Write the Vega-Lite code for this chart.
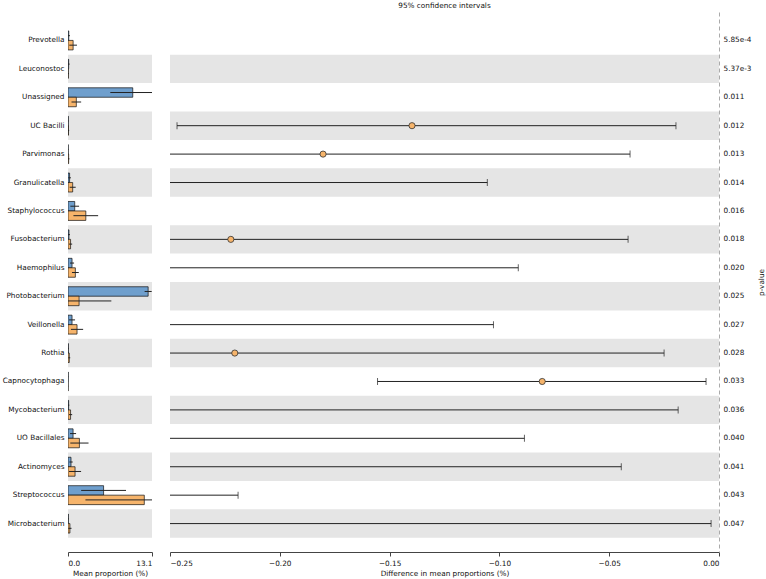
{
  "$schema": "https://vega.github.io/schema/vega-lite/v6.json",
  "padding": {"left": 2, "top": 1, "right": 2, "bottom": 2},
  "config": {
    "font": "DejaVu Sans",
    "view": {"stroke": null},
    "axis": {"labelFont": "DejaVu Sans", "titleFont": "DejaVu Sans", "labelFontSize": 7.3, "titleFontSize": 7.3, "titleFontWeight": "normal", "labelColor": "#111", "titleColor": "#111", "domainColor": "#444", "tickColor": "#444", "grid": false},
    "title": {"font": "DejaVu Sans", "fontSize": 7.3, "fontWeight": "normal", "color": "#111"}
  },
  "datasets": {
    "rows": [
      {"genus": "Prevotella", "pval": "5.85e-4", "diff": -0.9, "lo": -1.5, "hi": -0.3},
      {"genus": "Leuconostoc", "pval": "5.37e-3", "diff": -0.6, "lo": -1.0, "hi": -0.28},
      {"genus": "Unassigned", "pval": "0.011", "diff": 8.8, "lo": 3.5, "hi": 14.1},
      {"genus": "UC Bacilli", "pval": "0.012", "diff": -0.1398, "lo": -0.2468, "hi": -0.0196},
      {"genus": "Parvimonas", "pval": "0.013", "diff": -0.1803, "lo": -0.32, "hi": -0.0405},
      {"genus": "Granulicatella", "pval": "0.014", "diff": -0.45, "lo": -0.8, "hi": -0.1055},
      {"genus": "Staphylococcus", "pval": "0.016", "diff": -1.7, "lo": -3.2, "hi": -0.26},
      {"genus": "Fusobacterium", "pval": "0.018", "diff": -0.2223, "lo": -0.4, "hi": -0.0414},
      {"genus": "Haemophilus", "pval": "0.020", "diff": -0.4, "lo": -0.7, "hi": -0.0914},
      {"genus": "Photobacterium", "pval": "0.025", "diff": 10.8, "lo": 4.0, "hi": 17.6},
      {"genus": "Veillonella", "pval": "0.027", "diff": -0.78, "lo": -1.45, "hi": -0.1027},
      {"genus": "Rothia", "pval": "0.028", "diff": -0.2205, "lo": -0.42, "hi": -0.025},
      {"genus": "Capnocytophaga", "pval": "0.033", "diff": -0.0805, "lo": -0.1555, "hi": -0.0059},
      {"genus": "Mycobacterium", "pval": "0.036", "diff": -0.3, "lo": -0.58, "hi": -0.0186},
      {"genus": "UO Bacillales", "pval": "0.040", "diff": -0.99, "lo": -1.9, "hi": -0.0886},
      {"genus": "Actinomyces", "pval": "0.041", "diff": -0.63, "lo": -1.2, "hi": -0.0445},
      {"genus": "Streptococcus", "pval": "0.043", "diff": -6.4, "lo": -12.6, "hi": -0.219},
      {"genus": "Microbacterium", "pval": "0.047", "diff": -0.28, "lo": -0.56, "hi": -0.0036}
    ],
    "bars": [
      {"genus": "Prevotella", "group": "group1", "mean": 0.12, "lo": 0.0, "hi": 0.3},
      {"genus": "Prevotella", "group": "group2", "mean": 0.8, "lo": 0.2, "hi": 1.4},
      {"genus": "Leuconostoc", "group": "group1", "mean": 0.1, "lo": 0.0, "hi": 0.25},
      {"genus": "Leuconostoc", "group": "group2", "mean": 0.05, "lo": 0.0, "hi": 0.12},
      {"genus": "Unassigned", "group": "group1", "mean": 10.1, "lo": 6.6, "hi": 13.6},
      {"genus": "Unassigned", "group": "group2", "mean": 1.3, "lo": 0.55, "hi": 2.05},
      {"genus": "UC Bacilli", "group": "group1", "mean": 0.04, "lo": 0.0, "hi": 0.09},
      {"genus": "UC Bacilli", "group": "group2", "mean": 0.08, "lo": 0.0, "hi": 0.18},
      {"genus": "Parvimonas", "group": "group1", "mean": 0.03, "lo": 0.0, "hi": 0.07},
      {"genus": "Parvimonas", "group": "group2", "mean": 0.1, "lo": 0.0, "hi": 0.22},
      {"genus": "Granulicatella", "group": "group1", "mean": 0.25, "lo": 0.05, "hi": 0.45},
      {"genus": "Granulicatella", "group": "group2", "mean": 0.73, "lo": 0.26, "hi": 1.2},
      {"genus": "Staphylococcus", "group": "group1", "mean": 1.05, "lo": 0.37, "hi": 1.73},
      {"genus": "Staphylococcus", "group": "group2", "mean": 2.78, "lo": 0.85, "hi": 4.7},
      {"genus": "Fusobacterium", "group": "group1", "mean": 0.15, "lo": 0.0, "hi": 0.3},
      {"genus": "Fusobacterium", "group": "group2", "mean": 0.4, "lo": 0.15, "hi": 0.65},
      {"genus": "Haemophilus", "group": "group1", "mean": 0.63, "lo": 0.31, "hi": 0.95},
      {"genus": "Haemophilus", "group": "group2", "mean": 1.15, "lo": 0.62, "hi": 1.68},
      {"genus": "Photobacterium", "group": "group1", "mean": 12.5, "lo": 11.95, "hi": 13.05},
      {"genus": "Photobacterium", "group": "group2", "mean": 1.73, "lo": -3.3, "hi": 6.76},
      {"genus": "Veillonella", "group": "group1", "mean": 0.63, "lo": 0.16, "hi": 1.1},
      {"genus": "Veillonella", "group": "group2", "mean": 1.41, "lo": 0.46, "hi": 2.36},
      {"genus": "Rothia", "group": "group1", "mean": 0.05, "lo": 0.0, "hi": 0.1},
      {"genus": "Rothia", "group": "group2", "mean": 0.2, "lo": 0.05, "hi": 0.35},
      {"genus": "Capnocytophaga", "group": "group1", "mean": 0.03, "lo": 0.0, "hi": 0.05},
      {"genus": "Capnocytophaga", "group": "group2", "mean": 0.02, "lo": 0.0, "hi": 0.04},
      {"genus": "Mycobacterium", "group": "group1", "mean": 0.1, "lo": 0.0, "hi": 0.2},
      {"genus": "Mycobacterium", "group": "group2", "mean": 0.4, "lo": 0.15, "hi": 0.65},
      {"genus": "UO Bacillales", "group": "group1", "mean": 0.79, "lo": 0.32, "hi": 1.26},
      {"genus": "UO Bacillales", "group": "group2", "mean": 1.78, "lo": 0.36, "hi": 3.2},
      {"genus": "Actinomyces", "group": "group1", "mean": 0.47, "lo": 0.21, "hi": 0.73},
      {"genus": "Actinomyces", "group": "group2", "mean": 1.1, "lo": 0.16, "hi": 2.04},
      {"genus": "Streptococcus", "group": "group1", "mean": 5.55, "lo": 2.05, "hi": 9.05},
      {"genus": "Streptococcus", "group": "group2", "mean": 11.9, "lo": 2.72, "hi": 21.1},
      {"genus": "Microbacterium", "group": "group1", "mean": 0.05, "lo": 0.0, "hi": 0.1},
      {"genus": "Microbacterium", "group": "group2", "mean": 0.3, "lo": 0.05, "hi": 0.55}
    ]
  },
  "spacing": 16,
  "hconcat": [
    {
      "width": 84,
      "height": 540,
      "layer": [
        {
          "data": {"name": "rows"},
          "transform": [
            {"window": [{"op": "row_number", "as": "rn"}]},
            {"filter": "datum.rn % 2 == 0"}
          ],
          "mark": {"type": "rect", "color": "#e5e5e5"},
          "encoding": {
            "y": {"field": "genus", "type": "nominal"},
            "x": {"datum": 0},
            "x2": {"datum": 13.1}
          }
        },
        {
          "data": {"name": "bars"},
          "mark": {"type": "bar", "stroke": "#111", "strokeWidth": 0.7, "clip": true},
          "encoding": {
            "y": {"field": "genus", "type": "nominal"},
            "yOffset": {"field": "group", "type": "nominal", "scale": {"paddingInner": 0, "paddingOuter": 0.5}},
            "x": {"field": "mean", "type": "quantitative"},
            "color": {"field": "group", "type": "nominal", "scale": {"domain": ["group1", "group2"], "range": ["#6f9fcd", "#f6b46b"]}, "legend": null},
            "fillOpacity": {"value": 1}
          }
        },
        {
          "data": {"name": "bars"},
          "mark": {"type": "rule", "color": "#222", "strokeWidth": 1, "clip": true},
          "encoding": {
            "y": {"field": "genus", "type": "nominal"},
            "yOffset": {"field": "group", "type": "nominal", "scale": {"paddingInner": 0, "paddingOuter": 0.5}},
            "x": {"field": "lo", "type": "quantitative"},
            "x2": {"field": "hi"}
          }
        }
      ],
      "encoding": {
        "y": {
          "field": "genus", "type": "nominal",
          "scale": {"domain": ["Prevotella", "Leuconostoc", "Unassigned", "UC Bacilli", "Parvimonas", "Granulicatella", "Staphylococcus", "Fusobacterium", "Haemophilus", "Photobacterium", "Veillonella", "Rothia", "Capnocytophaga", "Mycobacterium", "UO Bacillales", "Actinomyces", "Streptococcus", "Microbacterium"], "paddingInner": 0, "paddingOuter": 0.5},
          "axis": {"title": null, "ticks": false, "domain": false, "labelPadding": 4}
        },
        "x": {
          "type": "quantitative",
          "scale": {"domain": [0, 13.1], "nice": false, "zero": false},
          "axis": {"title": "Mean proportion (%)", "values": [0, 13.1], "format": ".1f", "tickSize": 4, "titlePadding": 3, "labelPadding": 3}
        }
      }
    },
    {
      "width": 549,
      "height": 540,
      "title": {"text": "95% confidence intervals", "anchor": "middle", "offset": 3},
      "layer": [
        {
          "layer": [
            {
              "data": {"name": "rows"},
              "transform": [
                {"window": [{"op": "row_number", "as": "rn"}]},
                {"filter": "datum.rn % 2 == 0"}
              ],
              "mark": {"type": "rect", "color": "#e5e5e5"},
              "encoding": {
                "x": {"datum": -0.25},
                "x2": {"datum": 0}
              }
            },
            {
              "data": {"name": "rows"},
              "mark": {"type": "rule", "color": "#222", "strokeWidth": 1, "clip": true},
              "encoding": {
                "x": {"field": "lo", "type": "quantitative"},
                "x2": {"field": "hi"}
              }
            },
            {
              "data": {"name": "rows"},
              "mark": {"type": "tick", "color": "#222", "size": 7, "thickness": 1, "clip": true},
              "encoding": {
                "x": {"field": "lo", "type": "quantitative"}
              }
            },
            {
              "data": {"name": "rows"},
              "mark": {"type": "tick", "color": "#222", "size": 7, "thickness": 1, "clip": true},
              "encoding": {
                "x": {"field": "hi", "type": "quantitative"}
              }
            },
            {
              "data": {"name": "rows"},
              "mark": {"type": "point", "filled": true, "fill": "#f6b46b", "stroke": "#333", "strokeWidth": 0.8, "size": 38, "opacity": 1, "clip": true},
              "encoding": {
                "x": {"field": "diff", "type": "quantitative"}
              }
            }
          ],
          "encoding": {
            "y": {
              "field": "genus", "type": "nominal",
              "scale": {"domain": ["Prevotella", "Leuconostoc", "Unassigned", "UC Bacilli", "Parvimonas", "Granulicatella", "Staphylococcus", "Fusobacterium", "Haemophilus", "Photobacterium", "Veillonella", "Rothia", "Capnocytophaga", "Mycobacterium", "UO Bacillales", "Actinomyces", "Streptococcus", "Microbacterium"], "paddingInner": 0, "paddingOuter": 0.5},
              "axis": null
            }
          }
        },
        {
          "data": {"name": "rows"},
          "mark": {"type": "tick", "opacity": 0},
          "encoding": {
            "x": {"datum": 0},
            "y": {
              "field": "pval", "type": "nominal",
              "scale": {"domain": ["5.85e-4", "5.37e-3", "0.011", "0.012", "0.013", "0.014", "0.016", "0.018", "0.020", "0.025", "0.027", "0.028", "0.033", "0.036", "0.040", "0.041", "0.043", "0.047"], "paddingInner": 0, "paddingOuter": 0.5},
              "axis": {"orient": "right", "title": "p-value", "ticks": false, "domainDash": [4, 3], "domainColor": "#aaa", "labelPadding": 4, "titleAngle": 270, "titleBaseline": "top", "titlePadding": 6}
            }
          }
        }
      ],
      "resolve": {"scale": {"y": "independent"}, "axis": {"y": "independent"}},
      "encoding": {
        "x": {
          "type": "quantitative",
          "scale": {"domain": [-0.25, 0], "nice": false, "zero": false},
          "axis": {"title": "Difference in mean proportions (%)", "values": [-0.25, -0.2, -0.15, -0.1, -0.05, 0], "format": ".2f", "tickSize": 4, "titlePadding": 3, "labelPadding": 3}
        }
      }
    }
  ]
}
